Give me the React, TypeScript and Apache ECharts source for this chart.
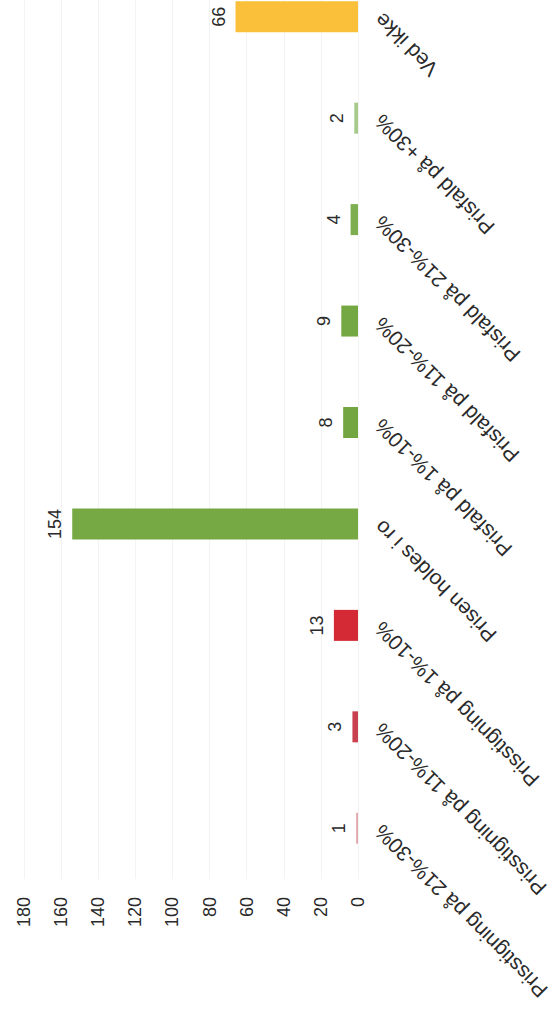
import React, { useEffect, useRef } from "react";
import * as echarts from "echarts";

const categories = [
  "Prisstigning på 21%-30%",
  "Prisstigning på 11%-20%",
  "Prisstigning på 1%-10%",
  "Prisen holdes i ro",
  "Prisfald på 1%-10%",
  "Prisfald på 11%-20%",
  "Prisfald på 21%-30%",
  "Prisfald på +30%",
  "Ved ikke",
];
const values = [1, 3, 13, 154, 8, 9, 4, 2, 66];
const barColors = [
  "#E4A6AD",
  "#C9404E",
  "#D42A36",
  "#76A843",
  "#73A641",
  "#74A843",
  "#7DAE50",
  "#A6CA8C",
  "#FAC03A",
];
const valueMin = 0;
const valueMax = 180;
const valueStep = 20;

const FONT = "'Liberation Sans', Arial, sans-serif";
const TEXT = "#2a2a2a";

export default function App() {
  const ref = useRef<HTMLDivElement>(null);
  useEffect(() => {
    if (!ref.current) return;
    const chart = echarts.init(ref.current, null, { renderer: "svg" });
    chart.setOption({
      animation: false,
      backgroundColor: "#ffffff",
      grid: {
        left: 24,
        right: 202,
        top: -34,
        bottom: 139,
        containLabel: false,
        outerBoundsMode: "none",
      },
      xAxis: {
        type: "value",
        inverse: true,
        min: valueMin,
        max: valueMax,
        interval: valueStep,
        position: "bottom",
        axisLine: { show: false },
        axisTick: { show: false },
        splitLine: { show: true, lineStyle: { color: "#f3f3f3", width: 1 } },
        axisLabel: {
          rotate: 90,
          margin: 18,
          color: TEXT,
          fontSize: 18,
          fontFamily: FONT,
        },
      },
      yAxis: {
        type: "category",
        data: categories,
        position: "right",
        axisLine: { show: false },
        axisTick: { show: false },
        splitLine: { show: false },
        axisLabel: {
          rotate: 135,
          margin: 20,
          color: TEXT,
          fontSize: 21,
          fontFamily: FONT,
          interval: 0,
        },
      },
      series: [
        {
          type: "bar",
          barWidth: 31,
          data: values.map((v, i) => ({
            value: v,
            itemStyle: { color: barColors[i] },
          })),
          label: {
            show: true,
            position: "left",
            rotate: 90,
            align: "center",
            verticalAlign: "bottom",
            distance: 8,
            color: TEXT,
            fontSize: 18,
            fontFamily: FONT,
          },
        },
      ],
    });
    return () => chart.dispose();
  }, []);
  return (
    <div
      ref={ref}
      style={{
        position: "fixed",
        left: 0,
        top: 0,
        width: 560,
        height: 1018,
        background: "#fff",
      }}
    />
  );
}
